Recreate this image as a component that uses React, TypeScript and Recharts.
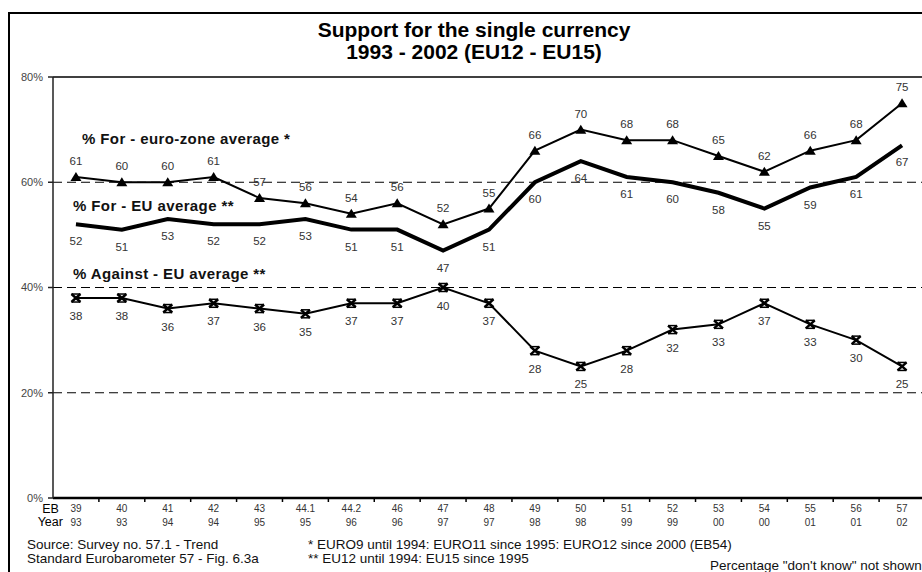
import React from "react";
import { LineChart, Line, XAxis, YAxis, ReferenceLine } from "recharts";

const EB_WAVES = ["39", "40", "41", "42", "43", "44.1", "44.2", "46", "47", "48", "49", "50", "51", "52", "53", "54", "55", "56", "57"];
const YEARS = ["93", "93", "94", "94", "95", "95", "96", "96", "97", "97", "98", "98", "99", "99", "00", "00", "01", "01", "02"];
const FOR_EUROZONE = [61, 60, 60, 61, 57, 56, 54, 56, 52, 55, 66, 70, 68, 68, 65, 62, 66, 68, 75];
const FOR_EU = [52, 51, 53, 52, 52, 53, 51, 51, 47, 51, 60, 64, 61, 60, 58, 55, 59, 61, 67];
const AGAINST_EU = [38, 38, 36, 37, 36, 35, 37, 37, 40, 37, 28, 25, 28, 32, 33, 37, 33, 30, 25];
const Y_TICKS = [0, 20, 40, 60, 80];
const DASHED_LEVELS = [20, 40, 60];

const data = EB_WAVES.map((eb, i) => ({
    eb,
    year: YEARS[i],
    euroZone: FOR_EUROZONE[i],
    eu: FOR_EU[i],
    against: AGAINST_EU[i],
}));

const FONT = '"Liberation Sans", Arial, sans-serif';
const CHART_W = 935;
const CHART_H = 572;
const PLOT_LEFT = 53;
const PLOT_RIGHT = 925;
const BAND = (PLOT_RIGHT - PLOT_LEFT) / EB_WAVES.length;

function WaveTick({ x, y, payload, index }: any) {
    return (
        <g fontFamily={FONT} fontSize={10} fill="#333">
            <line x1={x + BAND / 2} x2={x + BAND / 2} y1={y} y2={y + 4} stroke="#000" strokeWidth={1.5} />
            <text x={x} y={y + 10} textAnchor="middle" dominantBaseline="central">{payload.value}</text>
            <text x={x} y={y + 24} textAnchor="middle" dominantBaseline="central">{YEARS[index]}</text>
            {index === 0 && (
                <>
                    <text x={x - 17} y={y + 11} textAnchor="end" dominantBaseline="central" fontSize={12.5} fill="#000">EB</text>
                    <text x={x - 13} y={y + 24} textAnchor="end" dominantBaseline="central" fontSize={12.5} fill="#000">Year</text>
                </>
            )}
        </g>
    );
}

const triangleDot = (props: any) => {
    const { cx, cy, index } = props;
    return <path key={`tri-${index}`} d={`M${cx},${cy - 5} L${cx + 5.5},${cy + 4} L${cx - 5.5},${cy + 4} Z`} fill="#000" />;
};

const starDot = (props: any) => {
    const { cx, cy, index } = props;
    return (
        <g key={`star-${index}`} stroke="#000" strokeWidth={2.5}>
            <line x1={cx - 4.5} y1={cy - 4} x2={cx + 4.5} y2={cy + 4} />
            <line x1={cx - 4.5} y1={cy + 4} x2={cx + 4.5} y2={cy - 4} />
            <line x1={cx - 4.5} y1={cy - 4} x2={cx + 4.5} y2={cy - 4} strokeWidth={1.5} />
            <line x1={cx - 4.5} y1={cy + 4} x2={cx + 4.5} y2={cy + 4} strokeWidth={1.5} />
        </g>
    );
};

const valueLabel = (dy: number) => (props: any) => (
    <text
        key={`lbl-${props.index}-${dy}`}
        x={props.x}
        y={props.y + dy}
        textAnchor="middle"
        dominantBaseline="central"
        fontFamily={FONT}
        fontSize={11.5}
        fill="#333"
    >
        {props.value}
    </text>
);

const seriesName: React.CSSProperties = {
    position: "absolute",
    fontFamily: FONT,
    fontSize: 15,
    fontWeight: "bold",
    letterSpacing: 0.4,
    color: "#111",
    whiteSpace: "nowrap",
    lineHeight: "16px",
};

const footNote: React.CSSProperties = {
    position: "absolute",
    fontFamily: FONT,
    fontSize: 13.5,
    color: "#111",
    whiteSpace: "nowrap",
    lineHeight: "14px",
};

export default function App() {
    return (
        <div style={{ position: "absolute", left: 0, top: 0, width: 922, height: 572, overflow: "hidden", background: "#fff" }}>
            {/* frame */}
            <div style={{ position: "absolute", left: 8, top: 12, width: 940, height: 600, border: "2px solid #000" }} />

            <div style={{ position: "absolute", left: 0, width: 948, top: 19, textAlign: "center", fontFamily: FONT, fontWeight: "bold", fontSize: 21, lineHeight: "22px", color: "#000" }}>
                Support for the single currency
                <br />
                1993 - 2002 (EU12 - EU15)
            </div>

            <div style={{ position: "absolute", left: 0, top: 0 }}>
                <LineChart width={CHART_W} height={CHART_H} data={data} margin={{ top: 77, right: CHART_W - PLOT_RIGHT, bottom: 34, left: 0 }}>
                    {DASHED_LEVELS.map((v) => (
                        <ReferenceLine key={v} y={v} stroke="#000" strokeWidth={1} strokeDasharray="9 5" />
                    ))}
                    <ReferenceLine y={80} stroke="#000" strokeWidth={1.5} />
                    <XAxis
                        dataKey="eb"
                        scale="band"
                        height={40}
                        interval={0}
                        tickSize={0}
                        tickMargin={0}
                        tickLine={false}
                        axisLine={{ stroke: "#000", strokeWidth: 2.5 }}
                        tick={<WaveTick />}
                    />
                    <YAxis
                        width={PLOT_LEFT}
                        domain={[0, 80]}
                        ticks={Y_TICKS}
                        tickFormatter={(v) => `${v}%`}
                        tickSize={5}
                        tickMargin={5}
                        axisLine={{ stroke: "#222", strokeWidth: 1.5 }}
                        tickLine={{ stroke: "#222", strokeWidth: 1.5 }}
                        tick={{ fontFamily: FONT, fontSize: 11, fill: "#444" }}
                    />
                    <Line
                        dataKey="euroZone"
                        type="linear"
                        stroke="#000"
                        strokeWidth={2}
                        dot={triangleDot}
                        activeDot={false}
                        label={valueLabel(-16)}
                        isAnimationActive={false}
                    />
                    <Line
                        dataKey="eu"
                        type="linear"
                        stroke="#000"
                        strokeWidth={4}
                        dot={false}
                        activeDot={false}
                        label={valueLabel(17)}
                        isAnimationActive={false}
                    />
                    <Line
                        dataKey="against"
                        type="linear"
                        stroke="#000"
                        strokeWidth={2}
                        dot={starDot}
                        activeDot={false}
                        label={valueLabel(18)}
                        isAnimationActive={false}
                    />
                </LineChart>
            </div>

            <div style={{ ...seriesName, left: 82, top: 131 }}>% For - euro-zone average *</div>
            <div style={{ ...seriesName, left: 73, top: 198 }}>% For - EU average **</div>
            <div style={{ ...seriesName, left: 73, top: 266 }}>% Against - EU average **</div>

            <div style={{ ...footNote, left: 27, top: 538 }}>Source: Survey no. 57.1 - Trend</div>
            <div style={{ ...footNote, left: 27, top: 552 }}>Standard Eurobarometer 57 - Fig. 6.3a</div>
            <div style={{ ...footNote, left: 308, top: 538 }}>* EURO9 until 1994: EURO11 since 1995: EURO12 since 2000 (EB54)</div>
            <div style={{ ...footNote, left: 308, top: 552 }}>** EU12 until 1994: EU15 since 1995</div>
            <div style={{ ...footNote, left: 710, top: 559 }}>Percentage "don't know" not shown</div>
        </div>
    );
}
